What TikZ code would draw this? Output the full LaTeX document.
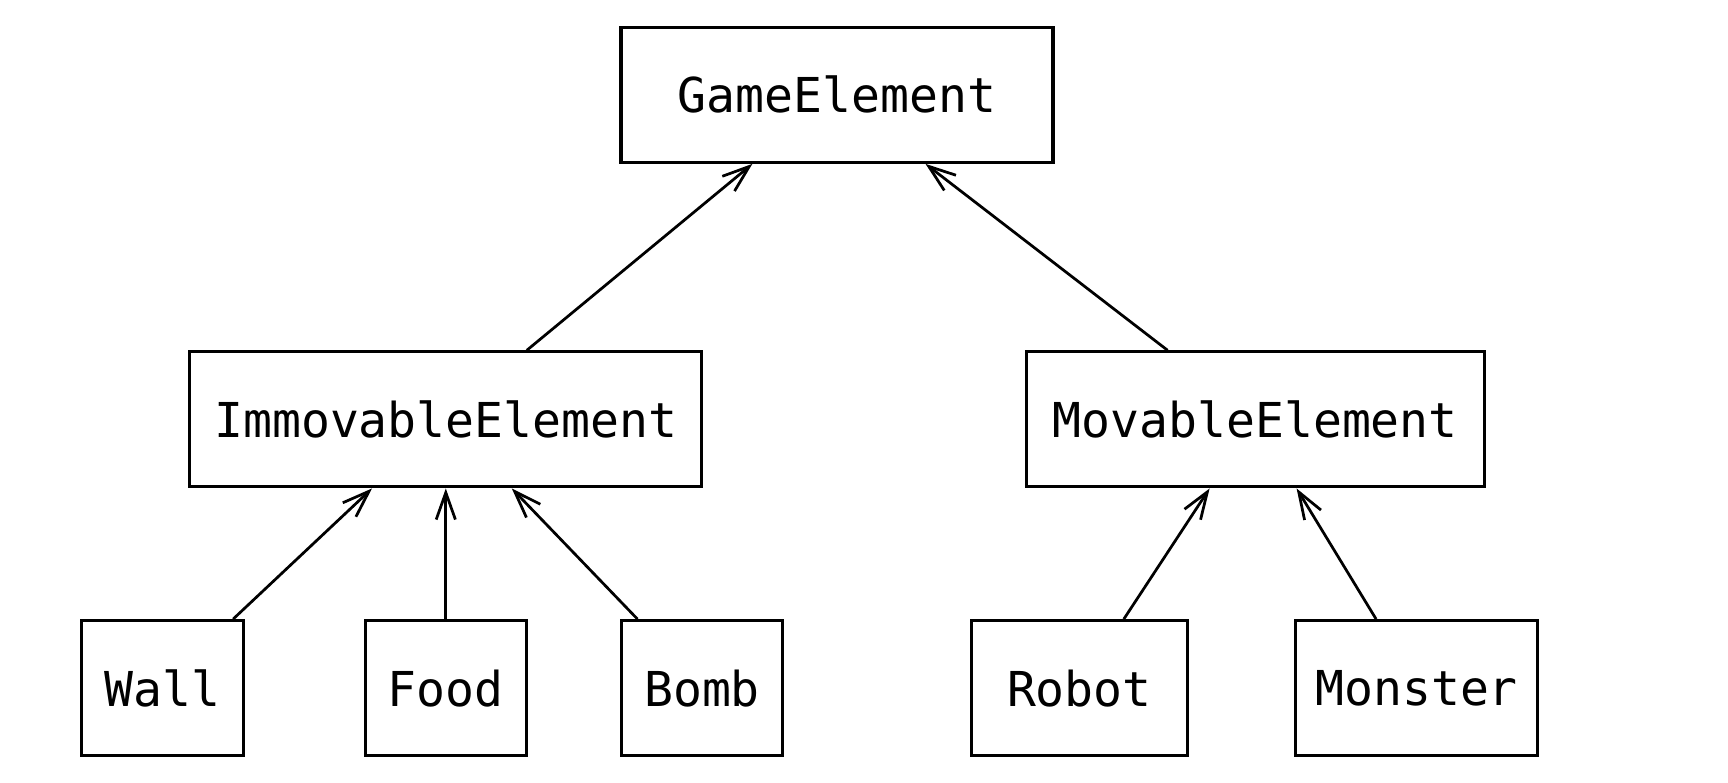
\documentclass[tikz,border=0pt]{standalone}
\usepackage{fontspec}
\usepackage{tikz}
\usetikzlibrary{arrows.meta}
\newfontfamily\codefont{DejaVu Sans Mono}

\begin{document}
\begin{tikzpicture}[
    cls/.style={draw, line width=1.5pt, minimum height=2.25cm,
                font=\codefont\fontsize{22.8}{27}\selectfont},
    inh/.style={line width=1.3pt, -{Straight Barb[length=0.45cm, width=0.32cm]}}
  ]
        \useasboundingbox (0, 0) rectangle (28.8, 13.05);

        \node[cls, minimum width=7.2cm]  (game) at (13.95, 11.47) {GameElement};
        \node[cls, minimum width=8.53cm] (imm)  at (7.43, 6.06)   {ImmovableElement};
        \node[cls, minimum width=7.63cm] (mov)  at (20.92, 6.06)  {MovableElement};

        \node[cls, minimum width=2.69cm] (wall)    at (2.71, 1.58)  {Wall};
        \node[cls, minimum width=2.69cm] (food)    at (7.43, 1.58)  {Food};
        \node[cls, minimum width=2.69cm] (bomb)    at (11.7, 1.58)  {Bomb};
        \node[cls, minimum width=3.6cm]  (robot)   at (17.99, 1.58) {Robot};
        \node[cls, minimum width=4.04cm] (monster) at (23.61, 1.58) {Monster};

        \draw ([xshift=1.35cm]imm.north)  edge[inh] ([xshift=-1.41cm]game.south)
              ([xshift=-1.46cm]mov.north) edge[inh] ([xshift=1.475cm]game.south);

        \draw ([xshift=1.175cm]wall.north)     edge[inh] ([xshift=-1.23cm]imm.south)
              (food.north)                     edge[inh] (imm.south)
              ([xshift=-1.075cm]bomb.north)    edge[inh] ([xshift=1.1cm]imm.south)
              ([xshift=0.74cm]robot.north)     edge[inh] ([xshift=-0.76cm]mov.south)
              ([xshift=-0.675cm]monster.north) edge[inh] ([xshift=0.69cm]mov.south);
      \end{tikzpicture}
\end{document}
